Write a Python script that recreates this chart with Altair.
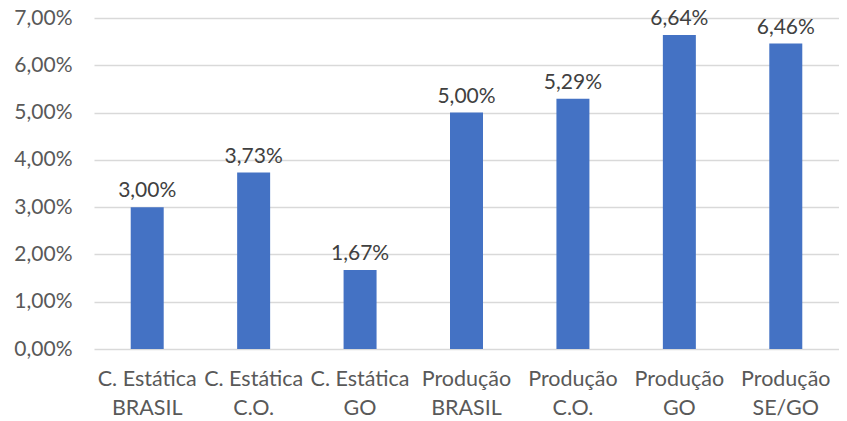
import altair as alt
import pandas as pd

categories = ["C. Estática|BRASIL", "C. Estática|C.O.", "C. Estática|GO",
              "Produção|BRASIL", "Produção|C.O.", "Produção|GO", "Produção|SE/GO"]
values = [0.0300, 0.0373, 0.0167, 0.0500, 0.0529, 0.0664, 0.0646]
y_ticks = [0, 0.01, 0.02, 0.03, 0.04, 0.05, 0.06, 0.07]

df = pd.DataFrame({"cat": categories, "val": values})

FONT = "Lato"

base = alt.Chart(df).encode(
    x=alt.X("cat:N", sort=categories, title=None,
            scale=alt.Scale(paddingInner=0.69, paddingOuter=0.345),
            axis=alt.Axis(labelExpr="split(datum.value, '|')", labelAngle=0,
                          domain=False, ticks=False, labelFontSize=21.5,
                          labelColor="#595959", labelFont=FONT,
                          labelPadding=19, labelLineHeight=29)),
    y=alt.Y("val:Q", title=None,
            scale=alt.Scale(domain=[0, 0.07], nice=False),
            axis=alt.Axis(values=y_ticks, domain=False, ticks=False,
                          labelExpr="replace(format(datum.value, '.2%'), '.', ',')",
                          labelFontSize=21, labelColor="#595959", labelFont=FONT,
                          labelPadding=22, gridColor="#d9d9d9", gridWidth=1.3)),
)

bars = base.mark_bar(color="#4472c4")
labels = base.transform_calculate(
    lbl="replace(format(datum.val, '.2%'), '.', ',')"
).mark_text(dy=-16, fontSize=21, color="#404040", font=FONT).encode(text="lbl:N")

chart = (bars + labels).properties(
    width=745, height=331,
    autosize=alt.AutoSizeParams(type="none"),
    padding={"left": 86, "top": 10, "right": 0, "bottom": 72},
).configure_view(stroke=None)

chart.save("out.html", embed_options={"renderer": "svg", "actions": False})
